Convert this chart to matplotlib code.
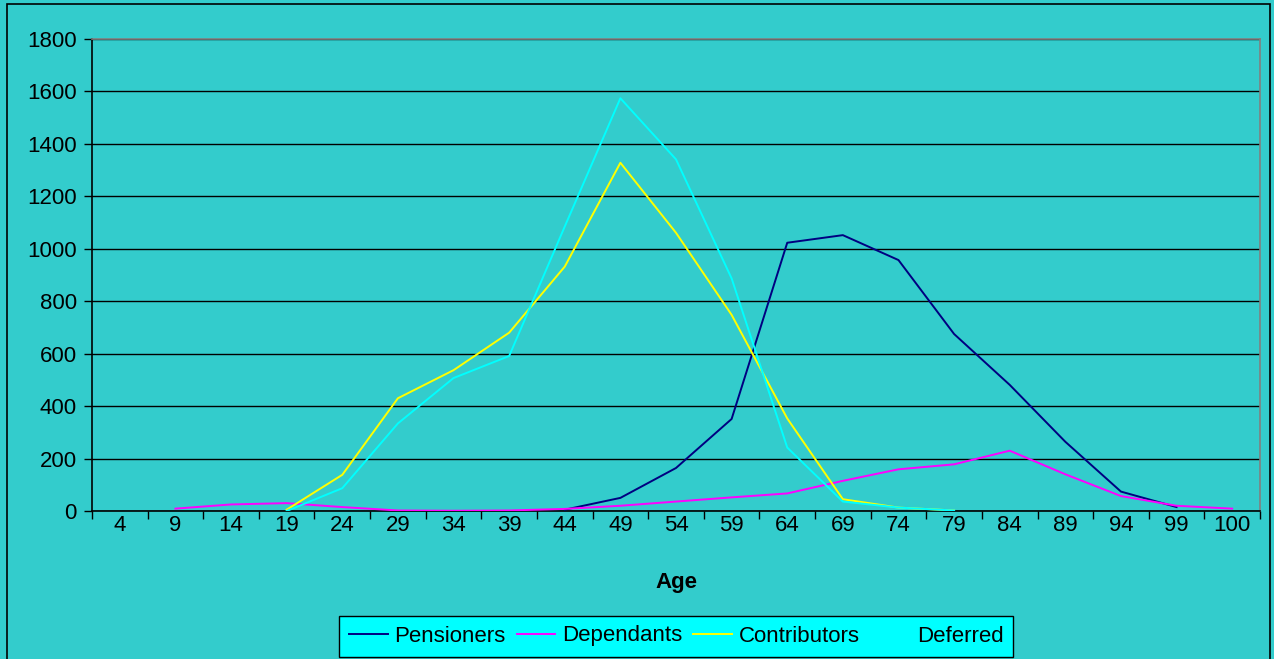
import numpy as np
import matplotlib
matplotlib.use('Agg')
import matplotlib.pyplot as plt
from matplotlib.patches import Rectangle

nan = np.nan

# Age bands on the category axis
ages = ['4', '9', '14', '19', '24', '29', '34', '39', '44', '49', '54',
        '59', '64', '69', '74', '79', '84', '89', '94', '99', '100']

pensioners = [nan, nan, nan, nan, nan, nan, nan, nan, 5, 50, 164, 351,
              1023, 1052, 957, 675, 481, 264, 74, 15, nan]
dependants = [nan, 9, 25, 30, 15, 2, 1, 2, 8, 20, 36, 52,
              67, 115, 159, 178, 230, 140, 57, 20, 9]
contributors = [nan, nan, nan, 5, 138, 430, 537, 680, 932, 1328, 1061, 748,
                353, 45, 13, 2, nan, nan, nan, nan, nan]
deferred = [nan, nan, nan, 0, 87, 334, 507, 591, 1085, 1574, 1341, 887,
            242, 36, 13, 2, nan, nan, nan, nan, nan]

series = [('Pensioners', pensioners, '#000080'),
          ('Dependants', dependants, '#FF00FF'),
          ('Contributors', contributors, '#FFFF00'),
          ('Deferred', deferred, '#00FFFF')]

bg = '#33CCCC'
plt.rcParams['font.family'] = ['Liberation Sans', 'DejaVu Sans']

fig = plt.figure(figsize=(12.74, 6.59), dpi=100, facecolor=bg)
W, H = 1274, 659
ax = fig.add_axes([92 / W, 1 - 511 / H, (1260 - 92) / W, (511 - 39) / H])
ax.set_facecolor(bg)

# outer chart frame
fig.patches.append(Rectangle((7 / W, -0.01), (1270 - 7) / W, 1 - 4 / H + 0.01,
                             transform=fig.transFigure, fill=False,
                             edgecolor='black', linewidth=1.2, zorder=0))

x = np.arange(len(ages))
for name, vals, col in series:
    ax.plot(x, vals, color=col, linewidth=1.4, label=name, zorder=3)

ax.set_xlim(-0.5, len(ages) - 0.5)
ax.set_ylim(0, 1800)
ax.set_yticks(np.arange(0, 1801, 200))
ax.yaxis.grid(True, color='black', linewidth=1.0)
ax.set_axisbelow(True)

ax.set_xticks(x)
ax.set_xticklabels(ages)
ax.set_xticks(np.arange(-0.5, len(ages)), minor=True)
ax.tick_params(axis='x', which='major', length=0, pad=3, labelsize=16)
ax.tick_params(axis='x', which='minor', length=6, width=1, color='black', direction='out')
ax.tick_params(axis='y', length=6, width=1, color='black', direction='out', labelsize=16, pad=5)

for side in ('left', 'bottom'):
    ax.spines[side].set_color('black')
    ax.spines[side].set_linewidth(1.2)
for side in ('top', 'right'):
    ax.spines[side].set_color('#808080')
    ax.spines[side].set_linewidth(1.2)

ax.set_xlabel('Age', fontsize=16, fontweight='bold', labelpad=26)

leg = fig.legend(loc='center', bbox_to_anchor=(676 / W, 1 - 636 / H), ncol=4,
                 fontsize=16, frameon=True, fancybox=False, handlelength=1.75,
                 columnspacing=0.5, handletextpad=0.3, borderpad=0.45,
                 borderaxespad=0)
leg.get_frame().set_facecolor('#00FFFF')
leg.get_frame().set_edgecolor('black')
leg.get_frame().set_alpha(1)
leg.get_frame().set_linewidth(1.0)

fig.savefig('out.png', dpi=100, facecolor=bg)
